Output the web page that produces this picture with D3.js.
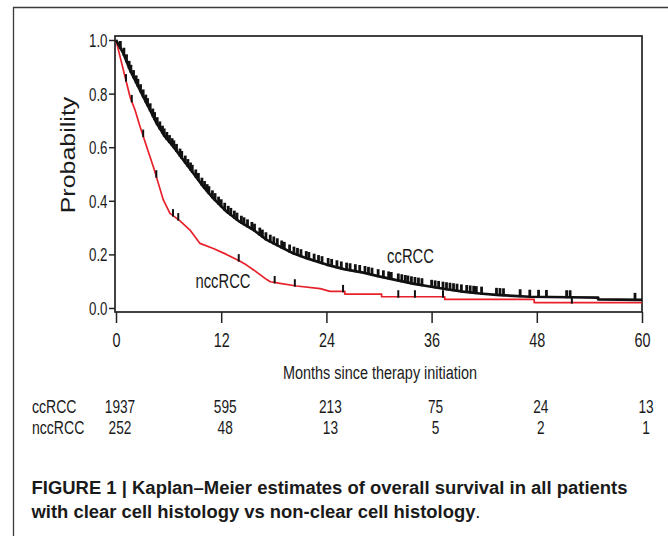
<!DOCTYPE html>
<html>
<head>
<meta charset="utf-8">
<script src="https://cdn.jsdelivr.net/npm/d3@7"></script>
<style>
  html, body { margin: 0; padding: 0; background: #fff; }
  svg { display: block; }
  text { font-family: "Liberation Sans", Arial, sans-serif; fill: #1a1a1a; }
</style>
</head>
<body>
<svg id="chart" width="668" height="536"></svg>
<script>
// ---------------- data ----------------
const monthTicks = [0, 12, 24, 36, 48, 60];
const probTicks = [0, 0.2, 0.4, 0.6, 0.8, 1.0];

// ccRCC Kaplan–Meier estimate (months, survival probability)
const ccTime = [0, 0.84, 1.6, 2.36, 3.12, 3.88, 4.64, 5.59, 6.54, 7.68, 8.82, 9.96, 11.1, 12.6, 14.1, 15.7, 17.2, 18.7, 20.2, 21.8, 24.0, 26.0, 28.2, 30.0, 32.0, 34.0, 35.8, 37.7, 39.6, 41.5, 43.4, 45.3, 47.2, 51.8, 55.0, 55.0, 60];
const ccSurv = [1.0, 0.95, 0.888, 0.838, 0.788, 0.739, 0.689, 0.639, 0.602, 0.552, 0.503, 0.453, 0.409, 0.36, 0.322, 0.291, 0.254, 0.229, 0.204, 0.185, 0.162, 0.145, 0.132, 0.118, 0.104, 0.09, 0.08, 0.07, 0.061, 0.054, 0.049, 0.045, 0.042, 0.04, 0.039, 0.032, 0.03];

// nccRCC Kaplan–Meier estimate
const nccTime = [0, 0.46, 1.03, 1.6, 2.17, 2.74, 3.5, 4.26, 4.83, 5.4, 6.16, 7.3, 8.44, 9.58, 11.1, 12.6, 14.1, 14.9, 15.7, 17.2, 17.6, 18.7, 20.6, 23.3, 24.4, 26.1, 26.1, 30.3, 30.3, 37.5, 37.5, 47.7, 47.7, 60];
const nccSurv = [1.0, 0.938, 0.863, 0.788, 0.739, 0.677, 0.602, 0.527, 0.465, 0.403, 0.353, 0.325, 0.291, 0.241, 0.222, 0.2, 0.175, 0.16, 0.142, 0.106, 0.098, 0.092, 0.082, 0.072, 0.062, 0.062, 0.052, 0.052, 0.042, 0.042, 0.032, 0.032, 0.02, 0.02];

// censoring times (months)
const ccCensor = [0.5, 0.9, 1.2, 1.5, 1.7, 2.0, 2.3, 2.5, 2.8, 3.1, 3.4, 3.6, 3.9, 4.2, 4.4, 4.7, 5.0, 5.3, 5.5, 5.8, 6.1, 6.4, 6.6, 6.9, 7.3, 7.5, 7.9, 8.2, 8.5, 8.7, 9.1, 9.4, 9.8, 10.1, 10.4, 10.6, 11.0, 11.3, 11.7, 12.0, 12.4, 12.8, 13.1, 13.5, 13.8, 14.3, 14.6, 15.0, 15.5, 15.8, 16.4, 16.7, 17.1, 17.6, 18.0, 18.4, 18.9, 19.2, 19.8, 20.3, 20.7, 21.1, 21.7, 22.0, 22.6, 23.1, 23.5, 24.2, 24.6, 25.2, 25.7, 26.3, 26.7, 27.3, 27.8, 28.4, 28.8, 29.2, 29.9, 30.5, 31.1, 31.4, 32.2, 32.6, 33.0, 33.3, 33.7, 34.1, 34.5, 34.9, 36.0, 36.4, 36.8, 37.3, 37.7, 38.1, 38.5, 38.9, 39.4, 40.0, 40.4, 40.8, 41.1, 41.7, 43.4, 43.8, 44.2, 46.1, 47.2, 48.2, 49.1, 51.4, 51.8, 59.2];
const nccCensor = [1.14, 1.8, 3.1, 4.6, 6.5, 7.1, 14.0, 18.1, 20.4, 25.9, 32.2, 34.1, 37.3, 52.0];

// numbers at risk
const riskGroups = ["ccRCC", "nccRCC"];
const ccAtRisk = [1937, 595, 213, 75, 24, 13];
const nccAtRisk = [252, 48, 13, 5, 2, 1];

const captionLine1 = "FIGURE 1 | Kaplan\u2013Meier estimates of overall survival in all patients";
const captionLine2 = "with clear cell histology vs non-clear cell histology";

// ---------------- drawing ----------------
const svg = d3.select("#chart");
const FONT = '"Liberation Sans", Arial, sans-serif';

const x = d3.scaleLinear().domain([0, 60]).range([116, 642]);
const y = d3.scaleLinear().domain([-0.015, 1.015]).range([312, 36]);

function txt(g, px, py, s, opt) {
  const o = Object.assign({ size: 18, anchor: "start", weight: "normal", sx: 0.74, rotate: 0 }, opt || {});
  return g.append("text")
    .attr("transform", `translate(${px},${py}) scale(${o.sx},1)` + (o.rotate ? ` rotate(${o.rotate})` : ""))
    .attr("text-anchor", o.anchor)
    .style("font-size", o.size + "px")
    .style("font-weight", o.weight)
    .text(s);
}

// outer figure frame (top and left edges)
svg.append("path")
  .attr("d", `M13.5,536 V7.5 H668`)
  .attr("fill", "none").attr("stroke", "#3a3a3a").attr("stroke-width", 1.3);

// plot box
svg.append("rect")
  .attr("x", x(0) - 1).attr("y", y(1.015))
  .attr("width", x(60) - x(0) + 1).attr("height", y(-0.015) - y(1.015))
  .attr("fill", "none").attr("stroke", "#222").attr("stroke-width", 1.7);

// y axis
const YSX = 0.72;
const yAxis = svg.append("g").attr("transform", `translate(${x(0) - 1},0)`)
  .call(d3.axisLeft(y).tickValues(probTicks).tickFormat(d3.format(".1f")).tickSize(6).tickPadding(2));
yAxis.select(".domain").remove();
yAxis.selectAll(".tick line").attr("stroke", "#222").attr("stroke-width", 1.5);
yAxis.selectAll(".tick text")
  .attr("x", -7.5 / YSX).attr("dy", "0.35em")
  .attr("transform", `scale(${YSX},1)`)
  .style("font-size", "18.5px").style("font-family", FONT).attr("fill", "#1a1a1a");

// x axis
const XSX = 0.72;
const xAxis = svg.append("g").attr("transform", `translate(0,${y(-0.015)})`)
  .call(d3.axisBottom(x).tickValues(monthTicks).tickSize(11));
xAxis.select(".domain").remove();
xAxis.selectAll(".tick line").attr("stroke", "#222").attr("stroke-width", 1.5);
xAxis.selectAll(".tick text")
  .attr("y", 35.5).attr("dy", null)
  .attr("transform", `scale(${XSX},1)`)
  .style("font-size", "20px").style("font-family", FONT).attr("fill", "#1a1a1a");

// axis titles
txt(svg, 75, 155, "Probability", { size: 25, anchor: "middle", sx: 0.82, rotate: -90 });
txt(svg, 380, 378.5, "Months since therapy initiation", { size: 19, anchor: "middle", sx: 0.76 });

// curves
const ccData = ccTime.map((t, i) => ({ t, s: ccSurv[i] }));
const nccData = nccTime.map((t, i) => ({ t, s: nccSurv[i] }));
const line = d3.line().x(d => x(d.t)).y(d => y(d.s));

const plot = svg.append("g");
plot.append("path").datum(nccData).attr("d", line)
  .attr("fill", "none").attr("stroke", "#e8202a").attr("stroke-width", 1.7).attr("stroke-linejoin", "round");
plot.append("path").datum(ccData).attr("d", line)
  .attr("fill", "none").attr("stroke", "#111").attr("stroke-width", 2.7).attr("stroke-linejoin", "round");

// survival value at time t from the curve points (linear between read points)
function survAt(times, surv, t) {
  let i = d3.bisectRight(times, t) - 1;
  if (i < 0) return surv[0];
  if (i >= times.length - 1) return surv[surv.length - 1];
  const t0 = times[i], t1 = times[i + 1];
  if (t1 === t0) return surv[i + 1];
  return surv[i] + (surv[i + 1] - surv[i]) * (t - t0) / (t1 - t0);
}

function censorMarks(times, surv, cens, w, up) {
  plot.append("g").selectAll("line").data(cens).join("line")
    .attr("x1", d => x(d)).attr("x2", d => x(d))
    .attr("y1", d => y(survAt(times, surv, d)) + 1)
    .attr("y2", d => y(survAt(times, surv, d)) - up)
    .attr("stroke", "#111").attr("stroke-width", w);
}
censorMarks(nccTime, nccSurv, nccCensor, 2, 6.5);
censorMarks(ccTime, ccSurv, ccCensor, 2.8, 7);

// curve labels
txt(svg, 410.5, 263, "ccRCC", { size: 20, anchor: "middle", sx: 0.74 });
txt(svg, 223, 287.5, "nccRCC", { size: 20, anchor: "middle", sx: 0.74 });

// numbers at risk table
const riskRows = [ccAtRisk, nccAtRisk];
const rowBase = [412.5, 433.5];
riskGroups.forEach((name, r) => {
  txt(svg, 32, rowBase[r], name, { size: 19, sx: 0.74 });
  riskRows[r].forEach((n, i) => {
    txt(svg, x(monthTicks[i]) + 4, rowBase[r], String(n), { size: 19, anchor: "middle", sx: 0.72 });
  });
});

// caption
svg.append("text")
  .attr("x", 31.5).attr("y", 494)
  .attr("textLength", 596).attr("lengthAdjust", "spacingAndGlyphs")
  .style("font-size", "17.5px").style("font-weight", "bold")
  .text(captionLine1);
const c2 = svg.append("text")
  .attr("x", 31.5).attr("y", 518)
  .attr("textLength", 449).attr("lengthAdjust", "spacingAndGlyphs")
  .style("font-size", "17.5px");
c2.append("tspan").style("font-weight", "bold").text(captionLine2);
c2.append("tspan").style("font-weight", "normal").text(".");
</script>
</body>
</html>
